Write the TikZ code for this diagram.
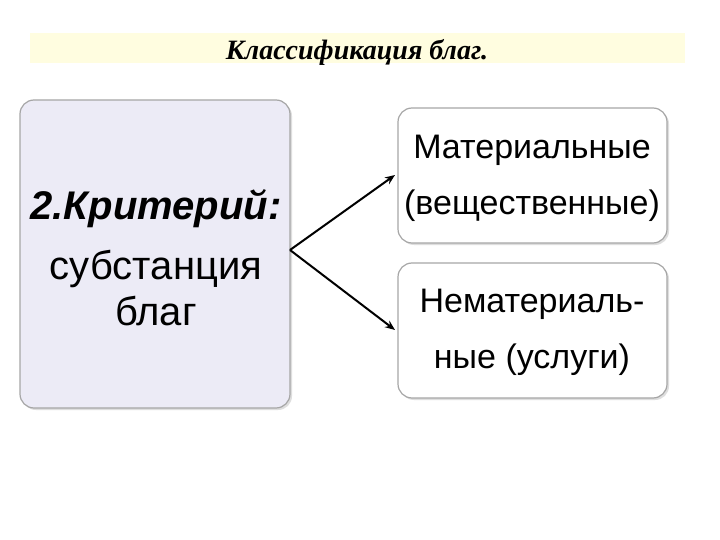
\documentclass[tikz,border=0pt]{standalone}
\usepackage{fontspec}
\setmainfont{Liberation Sans}
\newfontfamily\titlefont{Liberation Serif}
\usetikzlibrary{shadows,arrows.meta}
\begin{document}
\begin{tikzpicture}[x=1pt,y=-1pt,
  box/.style={draw=gray!70,line width=1.2pt,rounded corners=14pt,drop shadow={shadow xshift=2pt,shadow yshift=-2pt,fill=gray!50}},
  conn/.style={line width=2pt,-{Stealth[length=10pt,width=8pt]}}]
\useasboundingbox (0,0) rectangle (720,540);
\fill[white] (0,0) rectangle (720,540);
\fill[yellow!12] (30,33) rectangle (685,63);
\node[font=\titlefont\bfseries\itshape\fontsize{28}{30}\selectfont] (title) at (357,52) {Классификация благ.};
\draw[box,fill={rgb,255:red,236;green,235;blue,246}] (20,100) rectangle (290,408);
\node[align=center,font=\fontsize{40}{54}\selectfont] (ltext) at (156,258) {\textbf{\textit{2.Критерий:}}\\[6pt]субстанция\\[-8pt]благ};
\draw[box,fill=white] (398,108) rectangle (667,243);
\node[align=center,font=\fontsize{34}{56}\selectfont] (r1) at (532,178) {Материальные\\(вещественные)};
\draw[box,fill=white] (398,263) rectangle (667,398);
\node[align=center,font=\fontsize{34}{56}\selectfont] (r2) at (532,332) {Нематериаль-\\ные (услуги)};
\coordinate (s) at (290,250);
\coordinate (e1) at (395,175);
\coordinate (e2) at (395,330);
\draw[conn] (s) -- (e1);
\draw[conn] (s) -- (e2);
\end{tikzpicture}
\end{document}
